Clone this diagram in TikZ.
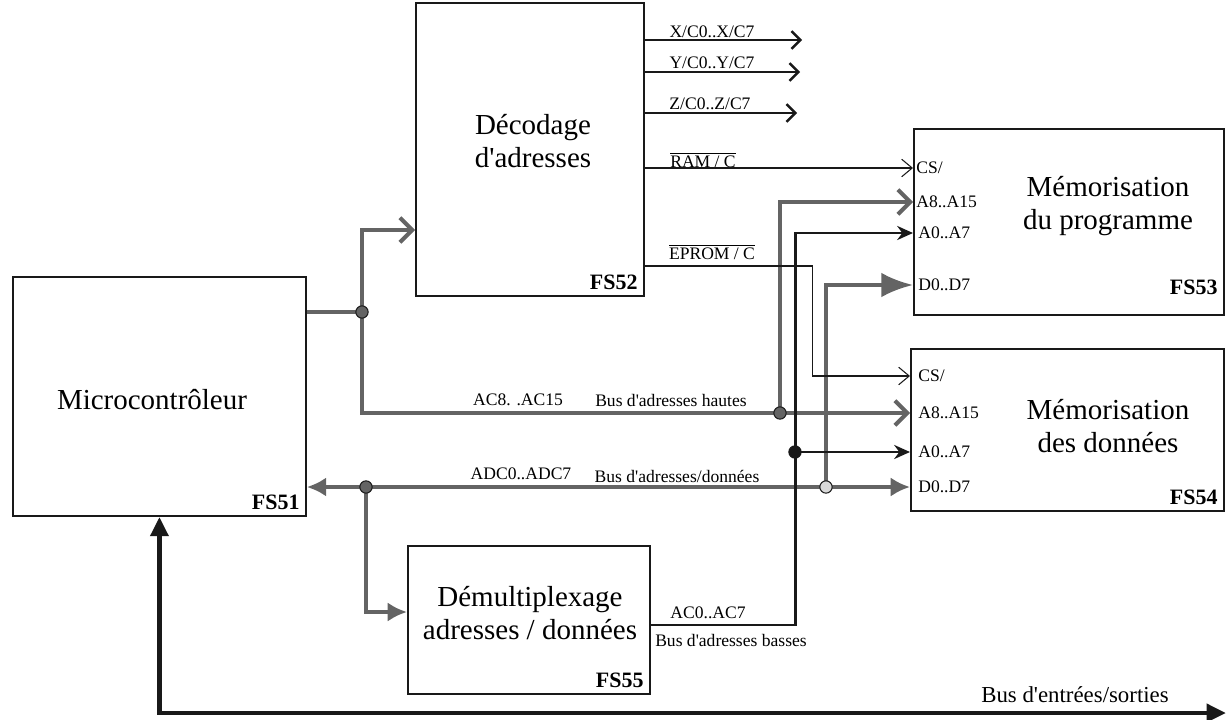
\documentclass[tikz,border=0pt]{standalone}
\usepackage{fontspec}
\setmainfont{Liberation Serif}
\usetikzlibrary{positioning,arrows.meta}
\definecolor{ink}{RGB}{25,25,25}
\definecolor{screen}{RGB}{100,100,100}
\newcommand{\q}{\textquotesingle}

\begin{document}
\begin{tikzpicture}[
  x=0.02cm, y=-0.02cm,
  font=\fontsize{10}{12}\selectfont,
  blk/.style={draw=ink, line width=1.1pt, anchor=north west, inner sep=0pt},
  ttl/.style={align=center, font=\fontsize{16.5}{19}\selectfont, inner sep=0pt},
  fsno/.style={font=\fontsize{12.5}{14}\selectfont\bfseries, anchor=south east, inner sep=0pt},
  port/.style={anchor=west, inner sep=0pt},
  lbl/.style={inner sep=0pt},
  cs/.style={draw=ink, line width=0.6pt, -{Straight Barb[length=6pt,width=10pt]}},
  sel/.style={draw=ink, line width=1.4pt, -{Straight Barb[length=5pt,width=10pt]}},
  lo/.style={draw=ink, line width=1.7pt, -{Stealth[length=9pt,width=8pt]}},
  hb/.style={draw=screen, line width=2.3pt},
  hbarb/.style={hb, -{Straight Barb[length=7pt,width=14pt]}},
  hfat/.style={hb, -{Latex[length=11pt,width=11pt]}},
  hbig/.style={hb, -{Latex[length=18pt,width=14pt]}},
  jn/.style={circle, draw=ink, fill=screen, line width=0.6pt, minimum size=7pt, inner sep=0pt},
  io/.style={draw=ink, line width=2.8pt, {Triangle[length=11pt,width=10pt]}-{Triangle[length=11pt,width=10pt]}},
]
\useasboundingbox (0,0) rectangle (1228,720);

% blocs fonctionnels
\node[blk, minimum width=5.86cm, minimum height=4.78cm] (mcu)   at (12,276)  {};
\node[blk, minimum width=4.56cm, minimum height=5.86cm] (dec)   at (415,2)   {};
\node[blk, minimum width=6.2cm,  minimum height=3.72cm] (memp)  at (913,128) {};
\node[blk, minimum width=6.26cm, minimum height=3.24cm] (memd)  at (910,348) {};
\node[blk, minimum width=4.84cm, minimum height=2.96cm] (demux) at (407,545) {};

\node[ttl] (mcu-t)   at (152,400)  {Microcontrôleur};
\node[ttl] (dec-t)   at (533,141)  {Décodage\\d\q adresses};
\node[ttl] (memp-t)  at (1108,206) {Mémorisation\\du programme};
\node[ttl] (memd-t)  at (1108,426) {Mémorisation\\des données};
\node[ttl] (demux-t) at (530,613)  {Démultiplexage\\adresses / données};

\node[fsno] (mcu-n)   at ([shift={(-4pt,4pt)}]mcu.south east)   {FS51};
\node[fsno] (dec-n)   at ([shift={(-4pt,4pt)}]dec.south east)   {FS52};
\node[fsno] (memp-n)  at ([shift={(-4pt,12pt)}]memp.south east) {FS53};
\node[fsno] (memd-n)  at ([shift={(-4pt,4pt)}]memd.south east)  {FS54};
\node[fsno] (demux-n) at ([shift={(-4pt,4pt)}]demux.south east) {FS55};

% entrees des memoires
\node[port] (p-cs) at (916,168) {CS/};
\node[port] (p-ah) at (916,202) {A8..A15};
\node[port] (p-al) at (918,233) {A0..A7};
\node[port] (p-d)  at (918,285) {D0..D7};
\node[port] (d-cs) at (918,376) {CS/};
\node[port] (d-ah) at (918,413) {A8..A15};
\node[port] (d-al) at (918,452) {A0..A7};
\node[port] (d-d)  at (918,487) {D0..D7};

% noms des signaux
\node[lbl] (l-x)     at (712,32)  {X/C0..X/C7};
\node[lbl] (l-y)     at (712,63)  {Y/C0..Y/C7};
\node[lbl] (l-z)     at (710,104) {Z/C0..Z/C7};
\node[lbl] (l-ram)   at (703,160) {$\overline{\mbox{RAM / C}}$};
\node[lbl] (l-eprom) at (712,252) {$\overline{\mbox{EPROM / C}}$};
\node[lbl] (l-ah)    at (518,400) {AC8. .AC15};
\node[lbl] (l-ahb)   at (671,400) {Bus d\q adresses hautes};
\node[lbl] (l-ad)    at (521,474) {ADC0..ADC7};
\node[lbl] (l-adb)   at (677,476) {Bus d\q adresses/données};
\node[lbl] (l-al)    at (708,613) {AC0..AC7};
\node[lbl] (l-alb)   at (731,640) {Bus d\q adresses basses};
\node[lbl, font=\fontsize{13}{15}\selectfont] (l-io) at (1075,695) {Bus d\q entrées/sorties};

\coordinate (j-up) at (362,312);
\coordinate (j-ah) at (780,413);
\coordinate (j-dt) at (366,487);
\coordinate (j-dp) at (826,487);
\coordinate (j-al) at (795,452);
\coordinate (xo) at (802,40);
\coordinate (yo) at (800,72);
\coordinate (zo) at (797,113);
\coordinate (io-end) at (1226,713);

% bus d'adresses hautes
\draw[hb] (mcu.east |- j-up) -- (j-up);
\draw[hbarb] (j-up) |- (dec.west |- 0,230);
\draw[hbarb] (j-up) |- (memd.west |- j-ah);
\draw[hbarb] (j-ah) |- (memp.west |- p-ah);

% bus d'adresses/donnees
\draw[hfat] (j-dt) -- (mcu.east |- j-dt);
\draw[hb] (j-dt) -- (j-dp);
\draw[hfat] (j-dp) -- (memd.west |- j-dp);
\draw[hfat] (j-dt) |- (demux.west |- 0,612);
\draw[hbig] (j-dp) |- (memp.west |- p-d);

% bus d'adresses basses
\draw[lo] (demux.east |- 0,625) -| (j-al) |- (memp.west |- p-al);
\draw[lo] (j-al) -- (memd.west |- j-al);

% selections
\draw[cs] (dec.east |- p-cs) -- (memp.west |- p-cs);
\draw[cs] (dec.east |- 0,266) -- ++(168,0) |- (memd.west |- d-cs);
\draw[sel] (dec.east |- xo) -- (xo);
\draw[sel] (dec.east |- yo) -- (yo);
\draw[sel] (dec.east |- zo) -- (zo);

% entrees/sorties
\draw[io] (mcu.south) |- (io-end);

\node[jn] (d1) at (j-up) {};
\node[jn] (d2) at (j-ah) {};
\node[jn] (d3) at (j-dt) {};
\node[jn, fill=black!15] (d4) at (j-dp) {};
\node[jn, fill=ink] (d5) at (j-al) {};

\end{tikzpicture}
\end{document}
